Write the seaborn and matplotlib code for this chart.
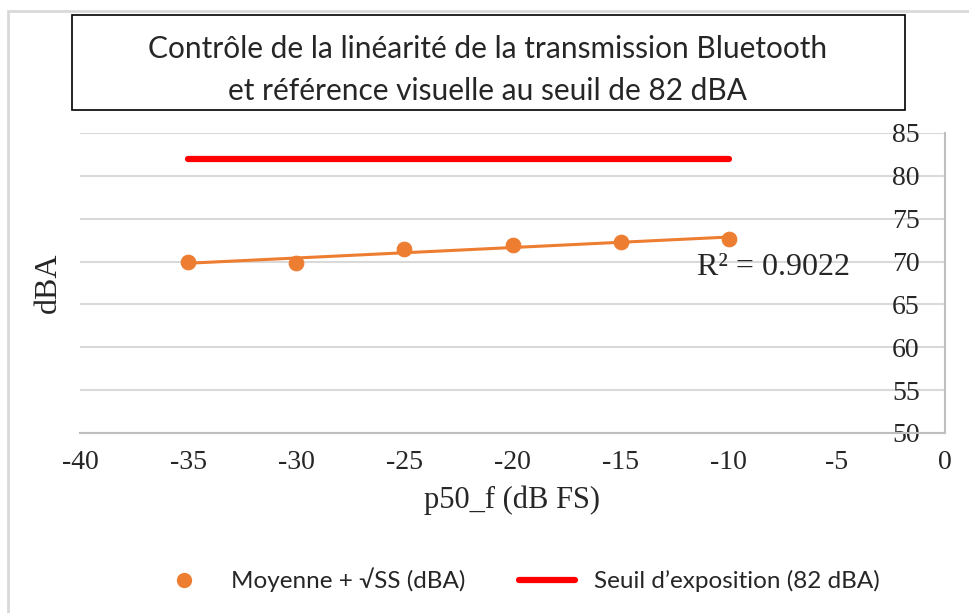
import numpy as np
import pandas as pd
import matplotlib.pyplot as plt
import seaborn as sns
from matplotlib.patches import Rectangle
from matplotlib.lines import Line2D

# Données
p50_f = [-35, -30, -25, -20, -15, -10]
moyenne_ss = [69.9, 69.8, 71.5, 71.9, 72.3, 72.6]
seuil_x = [-35, -10]
seuil = [82, 82]
r2_texte = "R² = 0.9022"

x_ticks = [-40, -35, -30, -25, -20, -15, -10, -5, 0]
y_ticks = [50, 55, 60, 65, 70, 75, 80, 85]

df = pd.DataFrame({"p50_f": p50_f, "dBA": moyenne_ss})

# Droite de tendance (moindres carrés)
pente, origine = np.polyfit(df["p50_f"], df["dBA"], 1)
df["tendance"] = pente * df["p50_f"] + origine

sns.set_style("white")
plt.rcParams["font.family"] = ["Liberation Serif", "DejaVu Serif"]
plt.rcParams["axes.unicode_minus"] = False

orange = "#ED7D31"
rouge = "#FF0000"
gris = "#D9D9D9"

fig = plt.figure(figsize=(9.7, 6.13), dpi=100)
ax = fig.add_axes([80 / 970, 1 - 433 / 613, 865 / 970, 300 / 613])

sns.lineplot(x=seuil_x, y=seuil, ax=ax, color=rouge, linewidth=4.5,
             solid_capstyle="round")
sns.lineplot(data=df, x="p50_f", y="tendance", ax=ax, color=orange,
             linewidth=2.2)
sns.scatterplot(data=df, x="p50_f", y="dBA", ax=ax, color=orange, s=110,
                edgecolor=orange, zorder=4)

ax.set_xlim(-40, 0)
ax.set_ylim(50, 85)
ax.set_xticks(x_ticks)
ax.set_yticks(y_ticks)
ax.yaxis.grid(True, color=gris, linewidth=1.5)
ax.set_axisbelow(True)
for cote in ["left", "top"]:
    ax.spines[cote].set_visible(False)
for cote in ["right", "bottom"]:
    ax.spines[cote].set_color("#BFBFBF")
    ax.spines[cote].set_linewidth(1.5)

ax.yaxis.set_ticks_position("right")
ax.tick_params(axis="y", length=0, labelsize=20, pad=-38, labelright=True,
               labelleft=False)
ax.tick_params(axis="x", length=0, labelsize=20, pad=12)

ax.set_xlabel("p50_f (dB FS)", fontsize=22, labelpad=8)
ax.set_ylabel("dBA", fontsize=23, labelpad=12)
ax.yaxis.set_label_position("left")

ax.text(-11.45, 69.3, r2_texte, fontsize=23, va="center", ha="left")

# Titre encadré
fig.text(488 / 970, 1 - 70 / 613,
         "Contrôle de la linéarité de la transmission Bluetooth\n"
         "et référence visuelle au seuil de 82 dBA",
         ha="center", va="center", fontsize=21.5, linespacing=1.65,
         family=["Lato", "DejaVu Sans"])
fig.patches.append(Rectangle((72 / 970, 1 - 110 / 613), 833 / 970, 95 / 613,
                             transform=fig.transFigure, fill=False,
                             edgecolor="black", linewidth=1.2))

# Cadre extérieur
fig.patches.append(Rectangle((8 / 970, -0.05), 1.0, 1 - 11 / 613 + 0.05,
                             transform=fig.transFigure, fill=False,
                             edgecolor=gris, linewidth=2))

# Légende
poignees = [
    Line2D([], [], marker="o", linestyle="none", color=orange, markersize=10),
    Line2D([], [], color=rouge, linewidth=4.5),
]
fig.legend(poignees, ["Moyenne + √SS (dBA)", "Seuil d’exposition (82 dBA)"],
           loc="center", bbox_to_anchor=(0.534, 1 - 580 / 613), ncol=2,
           frameon=False, columnspacing=2.2, handlelength=2.3,
           handletextpad=0.8,
           prop={"family": ["Lato", "DejaVu Sans"], "size": 17.5})

fig.savefig("out.png", dpi=100)
